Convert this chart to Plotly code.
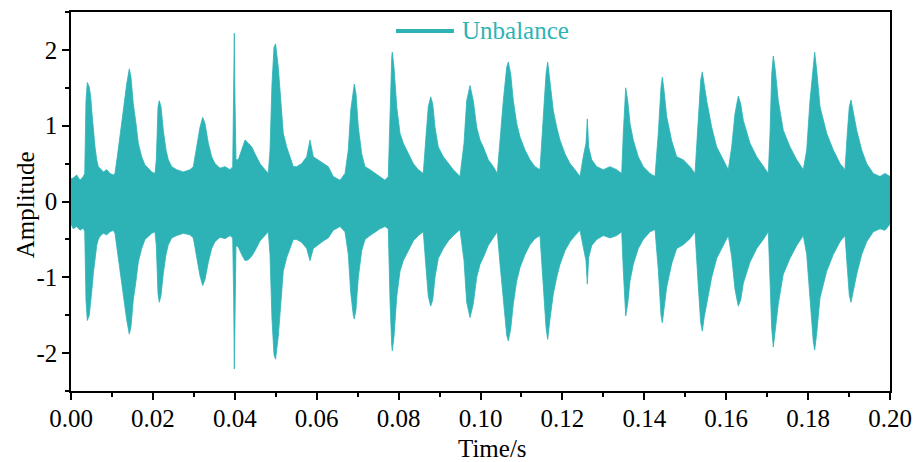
import plotly.graph_objects as go

# Envelope of the vibration signal (time in ms, upper / lower amplitude)
time_ms = [
    0.00, 0.56, 1.39, 2.20, 3.00, 3.35, 3.66, 3.98, 4.47, 4.81,
    5.13, 5.45, 5.86, 6.28, 6.67, 7.08, 7.89, 8.72, 9.52, 10.33,
    10.74, 11.31, 11.97, 12.77, 13.60, 14.24, 14.65, 15.21, 15.87, 16.43,
    17.26, 18.07, 18.88, 19.71, 20.51, 20.83, 21.25, 21.56, 21.98, 22.54,
    23.20, 23.76, 24.59, 25.81, 27.42, 29.06, 29.87, 30.70, 31.50, 32.16,
    32.72, 33.53, 34.36, 35.16, 36.39, 37.61, 38.83, 39.49, 39.73, 39.88,
    40.05, 40.29, 40.85, 41.68, 42.49, 43.30, 44.13, 44.93, 46.15, 47.37,
    48.18, 48.60, 49.08, 49.57, 49.95, 50.62, 51.21, 51.84, 52.67, 53.48,
    54.29, 55.12, 56.34, 57.56, 58.36, 59.17, 60.39, 61.61, 62.83, 64.05,
    65.69, 66.91, 67.72, 68.30, 68.94, 69.18, 69.60, 70.16, 70.99, 71.79,
    73.02, 74.24, 75.46, 76.68, 77.48, 77.90, 78.32, 78.46, 78.88, 79.54,
    80.34, 81.15, 82.37, 83.59, 84.81, 86.03, 86.62, 87.25, 87.84, 88.33,
    88.89, 89.69, 90.92, 92.14, 93.36, 94.99, 95.97, 96.63, 97.44, 98.24,
    99.07, 99.88, 100.68, 101.90, 103.13, 104.10, 104.76, 105.57, 106.40, 106.79,
    107.38, 108.01, 108.84, 109.65, 110.87, 112.09, 113.31, 114.53, 115.34, 116.00,
    116.41, 116.97, 117.78, 118.61, 119.41, 120.63, 121.86, 123.08, 124.30, 125.10,
    125.76, 126.08, 126.42, 127.16, 128.38, 129.99, 131.62, 133.26, 134.48, 134.87,
    135.46, 135.95, 136.51, 137.31, 138.53, 139.76, 141.39, 142.61, 143.42, 144.08,
    144.40, 144.81, 145.47, 146.69, 147.91, 149.52, 151.16, 152.38, 153.19, 153.77,
    154.16, 154.65, 155.24, 156.46, 157.68, 159.29, 160.51, 161.34, 162.15, 162.95,
    163.54, 164.18, 165.81, 167.45, 169.06, 170.28, 170.70, 171.11, 171.50, 171.99,
    172.72, 173.94, 175.58, 177.22, 178.83, 179.66, 180.46, 181.27, 181.61, 182.10,
    182.91, 184.54, 186.15, 187.79, 189.01, 189.57, 190.06, 190.48, 191.03, 191.87,
    193.09, 194.31, 195.92, 197.56, 198.78, 200.00,
]

upper = [
    0.30, 0.31, 0.35, 0.28, 0.33, 0.37, 1.33, 1.57, 1.51, 1.38,
    1.16, 0.94, 0.72, 0.55, 0.46, 0.44, 0.39, 0.42, 0.37, 0.35,
    0.37, 0.59, 0.90, 1.20, 1.55, 1.75, 1.64, 1.29, 1.03, 0.77,
    0.59, 0.48, 0.44, 0.39, 0.37, 0.55, 1.25, 1.33, 1.25, 0.94,
    0.68, 0.55, 0.46, 0.42, 0.39, 0.42, 0.46, 0.72, 0.98, 1.11,
    1.03, 0.77, 0.59, 0.50, 0.44, 0.46, 0.42, 0.46, 1.33, 2.22,
    1.33, 0.55, 0.55, 0.68, 0.81, 0.77, 0.72, 0.63, 0.50, 0.42,
    0.37, 0.68, 1.55, 2.03, 2.08, 1.77, 1.33, 0.90, 0.72, 0.59,
    0.46, 0.46, 0.50, 0.59, 0.81, 0.59, 0.55, 0.50, 0.46, 0.33,
    0.28, 0.37, 0.68, 1.20, 1.51, 1.55, 1.42, 0.98, 0.63, 0.46,
    0.42, 0.37, 0.33, 0.28, 0.33, 1.33, 1.90, 1.97, 1.77, 1.25,
    0.90, 0.77, 0.63, 0.50, 0.42, 0.37, 0.81, 1.25, 1.38, 1.29,
    0.98, 0.72, 0.59, 0.50, 0.42, 0.33, 0.77, 1.33, 1.53, 1.33,
    0.98, 0.81, 0.72, 0.55, 0.46, 0.37, 0.81, 1.33, 1.77, 1.84,
    1.68, 1.33, 1.03, 0.85, 0.68, 0.55, 0.46, 0.42, 1.12, 1.68,
    1.84, 1.55, 1.20, 0.98, 0.81, 0.63, 0.50, 0.42, 0.33, 0.59,
    0.77, 1.09, 0.72, 0.55, 0.46, 0.42, 0.46, 0.42, 0.37, 0.90,
    1.50, 1.33, 1.03, 0.81, 0.59, 0.46, 0.37, 0.33, 0.90, 1.51,
    1.64, 1.47, 1.12, 0.80, 0.59, 0.55, 0.46, 0.37, 1.12, 1.60,
    1.71, 1.51, 1.33, 0.98, 0.72, 0.55, 0.42, 0.72, 1.16, 1.39,
    1.29, 1.07, 0.77, 0.59, 0.46, 0.37, 0.90, 1.68, 1.92, 1.73,
    1.33, 0.94, 0.72, 0.55, 0.42, 0.68, 1.33, 1.86, 1.97, 1.73,
    1.25, 0.90, 0.68, 0.50, 0.42, 0.90, 1.25, 1.34, 1.20, 0.94,
    0.68, 0.50, 0.37, 0.33, 0.37, 0.33,
]

lower = [
    -0.30, -0.36, -0.33, -0.38, -0.35, -0.40, -1.30, -1.57, -1.50, -1.35,
    -1.15, -0.95, -0.75, -0.58, -0.50, -0.46, -0.42, -0.44, -0.40, -0.38,
    -0.42, -0.62, -0.92, -1.22, -1.56, -1.75, -1.65, -1.30, -1.05, -0.80,
    -0.62, -0.50, -0.46, -0.42, -0.40, -0.58, -1.22, -1.33, -1.24, -0.95,
    -0.70, -0.57, -0.48, -0.45, -0.42, -0.44, -0.48, -0.74, -0.98, -1.11,
    -1.03, -0.80, -0.62, -0.53, -0.47, -0.49, -0.45, -0.48, -1.30, -2.21,
    -1.30, -0.58, -0.60, -0.70, -0.78, -0.77, -0.72, -0.65, -0.52, -0.45,
    -0.40, -0.70, -1.55, -2.02, -2.08, -1.78, -1.35, -0.92, -0.74, -0.62,
    -0.50, -0.50, -0.54, -0.62, -0.78, -0.62, -0.57, -0.52, -0.48, -0.38,
    -0.33, -0.40, -0.70, -1.20, -1.50, -1.55, -1.42, -1.00, -0.65, -0.50,
    -0.45, -0.40, -0.36, -0.33, -0.36, -1.30, -1.90, -1.97, -1.78, -1.26,
    -0.92, -0.78, -0.65, -0.52, -0.45, -0.40, -0.82, -1.25, -1.38, -1.30,
    -1.00, -0.75, -0.62, -0.52, -0.45, -0.37, -0.78, -1.33, -1.53, -1.35,
    -1.00, -0.83, -0.74, -0.58, -0.48, -0.40, -0.82, -1.33, -1.76, -1.84,
    -1.68, -1.35, -1.05, -0.87, -0.70, -0.57, -0.49, -0.45, -1.12, -1.66,
    -1.82, -1.55, -1.22, -1.00, -0.83, -0.65, -0.53, -0.45, -0.38, -0.60,
    -0.78, -1.09, -0.74, -0.58, -0.50, -0.45, -0.48, -0.45, -0.40, -0.90,
    -1.51, -1.35, -1.05, -0.83, -0.62, -0.50, -0.40, -0.37, -0.90, -1.50,
    -1.60, -1.47, -1.13, -0.82, -0.62, -0.57, -0.49, -0.40, -1.12, -1.60,
    -1.71, -1.52, -1.34, -1.00, -0.75, -0.58, -0.45, -0.73, -1.16, -1.38,
    -1.30, -1.08, -0.80, -0.62, -0.50, -0.40, -0.90, -1.67, -1.92, -1.74,
    -1.35, -0.96, -0.75, -0.58, -0.45, -0.70, -1.33, -1.85, -1.96, -1.74,
    -1.27, -0.92, -0.70, -0.53, -0.45, -0.90, -1.24, -1.33, -1.20, -0.96,
    -0.70, -0.53, -0.40, -0.36, -0.38, -0.30,
]

assert len(time_ms) == len(upper) == len(lower)

x_ticks = [0.00, 0.02, 0.04, 0.06, 0.08, 0.10, 0.12, 0.14, 0.16, 0.18, 0.20]
y_ticks = [-2, -1, 0, 1, 2]
y_tick_text = ["-2", "-1", "0", "1", "2"]

TEAL = "#2DB3B6"
FONT = "Liberation Serif"

t_sec = [t / 1000.0 for t in time_ms]

fig = go.Figure()
# Signal band: upper envelope forward, lower envelope back
fig.add_trace(go.Scatter(
    x=t_sec + t_sec[::-1],
    y=upper + lower[::-1],
    mode="lines",
    fill="toself",
    fillcolor=TEAL,
    line=dict(color=TEAL, width=0.8),
    showlegend=False,
    hoverinfo="skip",
))

axis_common = dict(
    showline=True, linecolor="black", linewidth=1.5, mirror=True,
    ticks="outside", ticklen=7, tickwidth=1.5, tickcolor="black",
    showgrid=False, zeroline=False, automargin=False,
    tickfont=dict(family=FONT, size=25, color="black"),
)

fig.update_xaxes(
    range=[0, 0.2], tickvals=x_ticks, tickformat=".2f", ticklabelstandoff=-3,
    minor=dict(ticks="outside", ticklen=4, tickwidth=1.5, tickcolor="black", dtick=0.01, showgrid=False),
    **axis_common,
)
fig.update_yaxes(
    range=[-2.5, 2.5], tickvals=y_ticks, ticktext=y_tick_text,
    minor=dict(ticks="outside", ticklen=4, tickwidth=1.5, tickcolor="black", dtick=0.5, showgrid=False),
    **axis_common,
)

# Axis titles
fig.add_annotation(text="Time/s", xref="paper", yref="paper", x=0.515, y=-0.153,
                   xanchor="center", yanchor="middle", showarrow=False,
                   font=dict(family=FONT, size=25, color="black"))
fig.add_annotation(text="Amplitude", xref="paper", yref="paper", x=-0.0545, y=0.491,
                   xanchor="center", yanchor="middle", textangle=-90, showarrow=False,
                   font=dict(family=FONT, size=25, color="black"))

# Legend entry
fig.add_shape(type="line", xref="paper", yref="paper", x0=0.3968, x1=0.4676, y0=0.9499, y1=0.9499,
              line=dict(color=TEAL, width=4))
fig.add_annotation(text="Unbalance", xref="paper", yref="paper", x=0.475, y=0.9499,
                   xanchor="left", yanchor="middle", showarrow=False,
                   font=dict(family=FONT, size=25, color=TEAL))

fig.update_layout(
    width=916, height=462,
    margin=dict(l=71, r=26, t=12, b=71),
    paper_bgcolor="white", plot_bgcolor="white",
)

fig.write_html("out.html")
